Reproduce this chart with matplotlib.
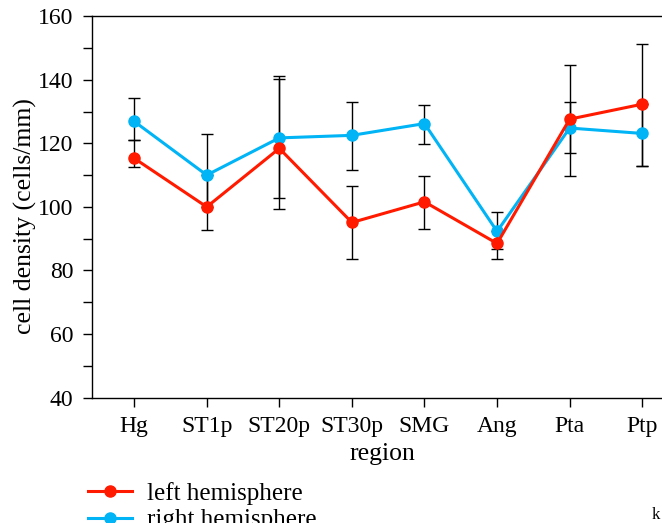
import matplotlib
matplotlib.use("Agg")
import matplotlib.pyplot as plt
from matplotlib.ticker import MultipleLocator

regions = ["Hg", "ST1p", "ST20p", "ST30p", "SMG", "Ang", "Pta", "Ptp"]
left_mean = [115.3, 100.0, 118.4, 95.1, 101.6, 88.5, 127.6, 132.3]
left_err_lo = [2.7, 7.2, 19.1, 11.35, 8.6, 4.75, 17.8, 19.3]
left_err_hi = [5.8, 10.0, 21.8, 11.5, 8.1, 3.8, 17.0, 18.8]
right_mean = [126.9, 110.0, 121.7, 122.5, 126.2, 92.3, 124.8, 123.1]
right_err_lo = [5.8, 10.0, 19.0, 10.9, 6.4, 5.4, 8.0, 10.1]
right_err_hi = [7.2, 12.9, 19.5, 10.6, 5.7, 6.2, 8.3, 9.2]

red = "#ff1a00"
blue = "#00b4f5"

plt.rcParams["font.family"] = ["Liberation Serif", "DejaVu Serif"]

fig = plt.figure(figsize=(6.62, 5.23), dpi=100)
ax = fig.add_axes([0.1385, 0.2396, 0.8958, 0.7296])

x = list(range(len(regions)))

# error bars sit underneath the lines/markers
ax.errorbar(x, right_mean, yerr=[right_err_lo, right_err_hi], fmt="none",
            ecolor="black", elinewidth=1.0, capsize=4, capthick=1.0, zorder=1)
ax.errorbar(x, left_mean, yerr=[left_err_lo, left_err_hi], fmt="none",
            ecolor="black", elinewidth=1.0, capsize=4, capthick=1.0, zorder=1)
ax.plot(x, right_mean, color=blue, lw=2.2, marker="o", ms=8,
        label="right hemisphere", zorder=2)
ax.plot(x, left_mean, color=red, lw=2.2, marker="o", ms=8,
        label="left hemisphere", zorder=3)

ax.set_xlim(-0.585, 7.585)
ax.set_ylim(40, 160)
ax.set_xticks(x)
ax.set_xticklabels(regions)
ax.yaxis.set_major_locator(MultipleLocator(20))
ax.yaxis.set_minor_locator(MultipleLocator(10))

ax.tick_params(axis="both", which="both", direction="out", length=6.3,
               width=1.0, labelsize=17, color="black")
ax.tick_params(axis="y", pad=7)
ax.tick_params(axis="x", pad=7)
ax.spines["right"].set_visible(False)
for s in ("left", "bottom", "top"):
    ax.spines[s].set_linewidth(1.0)

ax.set_xlabel("region", fontsize=18.5)
ax.xaxis.set_label_coords(0.4907, -0.118)
ax.set_ylabel("cell density (cells/mm)", fontsize=18.5)
ax.yaxis.set_label_coords(-0.093, 0.475)

handles, labels = ax.get_legend_handles_labels()
fig.legend(handles[::-1], labels[::-1], loc="upper left",
           bbox_to_anchor=(0.133, 0.078), frameon=False, fontsize=18,
           handlelength=1.75, handletextpad=0.62, labelspacing=0.15,
           borderpad=0, borderaxespad=0, numpoints=1)

fig.text(0.985, 0.0, "k", fontsize=12, ha="left", va="bottom")

fig.savefig("out.png", dpi=100)
